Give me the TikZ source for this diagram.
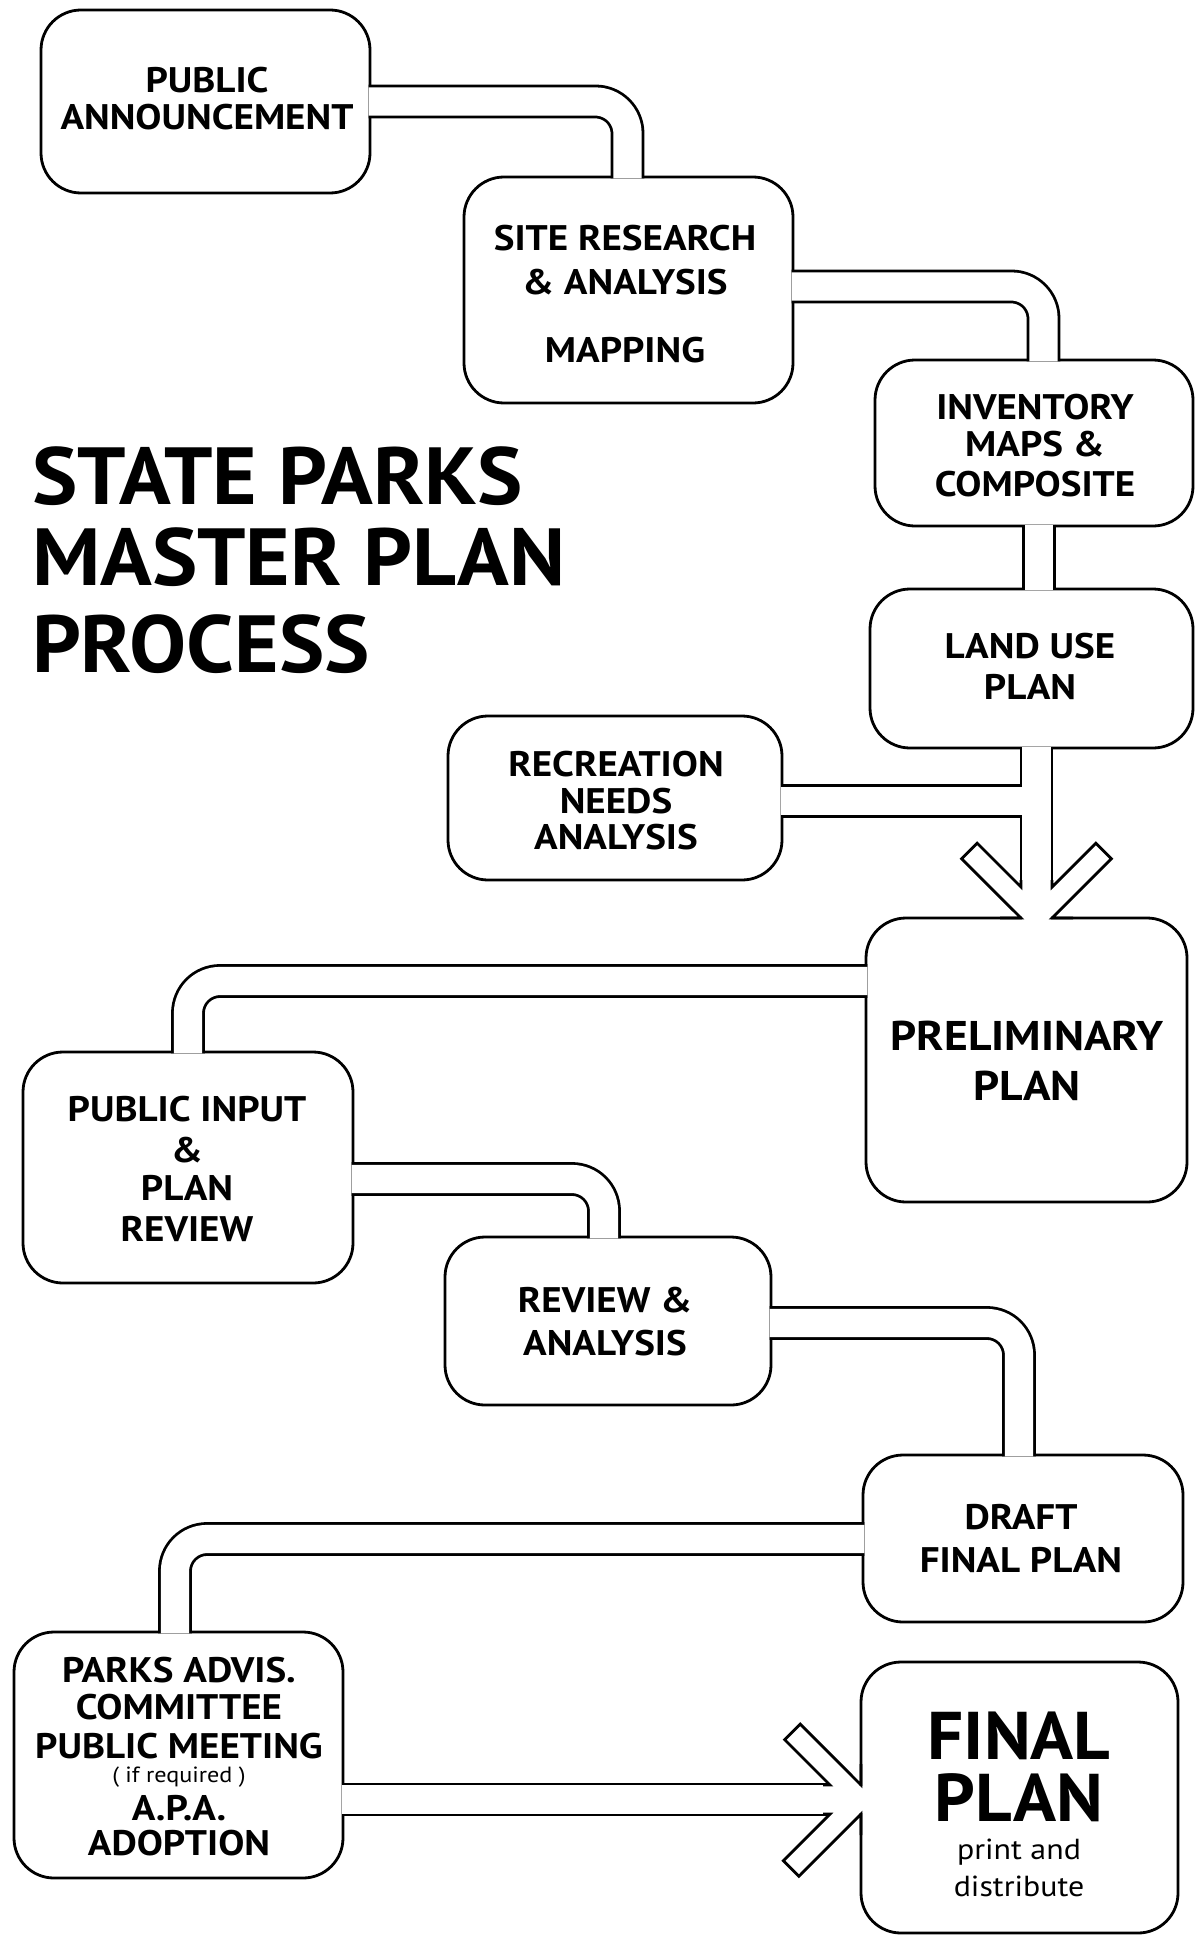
\documentclass[tikz,border=0pt]{standalone}
\usepackage{fontspec}
\newfontfamily\ptsans{PT Sans}
\newfontfamily\ptw{PT Sans}[FakeStretch=1.1]
\newfontfamily\ptt{PT Sans}[FakeStretch=1.055]
\usetikzlibrary{calc}
\begin{document}
\begin{tikzpicture}[x=1pt,y=-1pt,
  box/.style={draw, line width=2.8pt, rounded corners=40pt, outer sep=0pt, inner sep=0pt},
  pout/.style={line width=33.8pt, black, rounded corners=32pt},
  pin/.style={line width=28.2pt, white, rounded corners=32pt},
  arm/.style={line width=2.8pt, line join=miter, miter limit=10},
  bt/.style={inner sep=0pt, outer sep=0pt, text height=24.8pt, text depth=0pt, font=\ptw\bfseries\fontsize{35.5}{40}\selectfont},
  mt/.style={inner sep=0pt, outer sep=0pt, text height=29pt, text depth=0pt, font=\ptw\bfseries\fontsize{41.5}{48}\selectfont},
  ht/.style={inner sep=0pt, outer sep=0pt, text height=47.2pt, text depth=0pt, font=\ptt\bfseries\fontsize{67.5}{70}\selectfont},
  st/.style={inner sep=0pt, outer sep=0pt, text height=20.8pt, font=\ptw\fontsize{29}{32}\selectfont},
  it/.style={inner sep=0pt, outer sep=0pt, text height=16pt, text depth=4.2pt, font=\ptw\fontsize{22}{25}\selectfont},
  tt/.style={inner sep=0pt, outer sep=0pt, anchor=west, text height=56.7pt, text depth=0pt, font=\ptt\bfseries\fontsize{81}{84}\selectfont},
]
\useasboundingbox (0,0) rectangle (1197,1937);

% boxes
\node[box, minimum width=329pt, minimum height=183pt] (B1) at (205.5,101.5) {};
\node[box, minimum width=329pt, minimum height=226pt] (B2) at (628.5,290) {};
\node[box, minimum width=318pt, minimum height=166pt] (B3) at (1034,443) {};
\node[box, minimum width=323pt, minimum height=159pt] (B4) at (1031.5,668.5) {};
\node[box, minimum width=334pt, minimum height=164pt] (B5) at (615,798) {};
\node[box, minimum width=321pt, minimum height=284pt] (B6) at (1026.5,1060) {};
\node[box, minimum width=330pt, minimum height=231pt] (B7) at (188,1167.5) {};
\node[box, minimum width=326pt, minimum height=168pt] (B8) at (608,1321) {};
\node[box, minimum width=320pt, minimum height=167pt] (B9) at (1023,1538.5) {};
\node[box, minimum width=329pt, minimum height=246pt] (B10) at (178.5,1755) {};
\node[box, minimum width=317pt, minimum height=271pt] (B11) at (1019.5,1797.5) {};

% arrow tip points and pipe ends
\coordinate (t1L) at (B6.north -| 1021,0);
\coordinate (t1R) at (B6.north -| 1052,0);
\coordinate (a1) at ($(B6.north -| 1036.5,0)+(0,-31)$);
\coordinate (t2U) at (B11.west |- 0,1785);
\coordinate (t2D) at (B11.west |- 0,1814);
\coordinate (a2) at ($(B11.west |- 0,1799.5)+(-31,0)$);

% open the box borders between the arrow tips
\fill[white] ($(t1L)+(1.4,-3)$) rectangle ($(t1R)+(-1.4,3)$);
\fill[white] ($(t2U)+(-3,1.4)$) rectangle ($(t2D)+(3,-1.4)$);

\newcommand\drawpipes[1]{%
  \draw[#1, shorten <=-1.4pt, shorten >=-1.4pt] (B1.east |- 0,101.5) -| (B2.north -| 627.5,0);
  \draw[#1, shorten <=-1.4pt, shorten >=-1.4pt] (B2.east |- 0,286.5) -| (B3.north -| 1043.5,0);
  \draw[#1, shorten <=-1.4pt, shorten >=-1.4pt] (B3.south -| 1039,0) -- (B4.north -| 1039,0);
  \draw[#1, shorten <=-1.4pt] (B4.south -| 1036.5,0) -- (a1);
  \draw[#1, shorten <=-1.4pt] (B5.east |- 0,801) -- (a1 |- 0,801);
  \draw[#1, shorten <=-1.4pt, shorten >=-1.4pt] (B6.west |- 0,981) -| (B7.north -| 188,0);
  \draw[#1, shorten <=-1.4pt, shorten >=-1.4pt] (B7.east |- 0,1179) -| (B8.north -| 604,0);
  \draw[#1, shorten <=-1.4pt, shorten >=-1.4pt] (B8.east |- 0,1323) -| (B9.north -| 1019,0);
  \draw[#1, shorten <=-1.4pt, shorten >=-1.4pt] (B9.west |- 0,1539) -| (B10.north -| 175,0);
  \draw[#1, shorten <=-1.4pt] (B10.east |- 0,1799.5) -- (a2);
}
\drawpipes{pout}
\drawpipes{pin}

% arrowheads (open, outlined arms)
\draw[arm] (t1L) ++(0,-38) -- ++(0,7) -- ++(-43.8,-43.8) -- ++(-15.6,15.6) -- (t1L) -- ++(-21,0);
\draw[arm] (t1R) ++(0,-38) -- ++(0,7) -- ++(43.8,-43.8) -- ++(15.6,15.6) -- (t1R) -- ++(21,0);
\draw[arm] (t2U) ++(-38,0) -- ++(7,0) -- ++(-45.3,-45.3) -- ++(15.6,-15.6) -- (t2U) -- ++(0,-21);
\draw[arm] (t2D) ++(-38,0) -- ++(7,0) -- ++(-46.7,46.7) -- ++(15.6,15.6) -- (t2D) -- ++(0,21);

% title
\node[tt] (ti1) at (32,476) {STATE PARKS};
\node[tt] (ti2) at (32,557) {MASTER PLAN};
\node[tt] (ti3) at (32,644) {PROCESS};

% box texts
\node[bt] (l1a) at (207,80) {PUBLIC};
\node[bt] (l1b) at (207,117) {ANNOUNCEMENT};
\node[bt] (l2a) at (625,238) {SITE RESEARCH};
\node[bt] (l2b) at (625,282) {\& ANALYSIS};
\node[bt] (l2c) at (625,350) {MAPPING};
\node[bt] (l3a) at (1035,407) {INVENTORY};
\node[bt] (l3b) at (1035,444) {MAPS \&};
\node[bt] (l3c) at (1035,484) {COMPOSITE};
\node[bt] (l4a) at (1030,646) {LAND USE};
\node[bt] (l4b) at (1030,687) {PLAN};
\node[bt] (l5a) at (616,764) {RECREATION};
\node[bt] (l5b) at (616,801) {NEEDS};
\node[bt] (l5c) at (616,837) {ANALYSIS};
\node[mt] (l6a) at (1027,1036) {PRELIMINARY};
\node[mt] (l6b) at (1027,1086) {PLAN};
\node[bt] (l7a) at (187,1109) {PUBLIC INPUT};
\node[bt] (l7b) at (187,1150) {\&};
\node[bt] (l7c) at (187,1188) {PLAN};
\node[bt] (l7d) at (187,1229) {REVIEW};
\node[bt] (l8a) at (605,1300) {REVIEW \&};
\node[bt] (l8b) at (605,1343) {ANALYSIS};
\node[bt] (l9a) at (1021,1517) {DRAFT};
\node[bt] (l9b) at (1021,1560) {FINAL PLAN};
\node[bt] (l10a) at (179,1670) {PARKS ADVIS.};
\node[bt] (l10b) at (179,1707) {COMMITTEE};
\node[bt] (l10c) at (179,1746) {PUBLIC MEETING};
\node[it] (l10d) at (179,1777) {( if required )};
\node[bt] (l10e) at (179,1808) {A.P.A.};
\node[bt] (l10f) at (179,1843) {ADOPTION};
\node[ht] (l11a) at (1019,1736) {FINAL};
\node[ht] (l11b) at (1019,1798) {PLAN};
\node[st, text depth=5.8pt] (l11c) at (1019,1852) {print and};
\node[st, text depth=0pt] (l11d) at (1019,1886) {distribute};
\end{tikzpicture}
\end{document}
